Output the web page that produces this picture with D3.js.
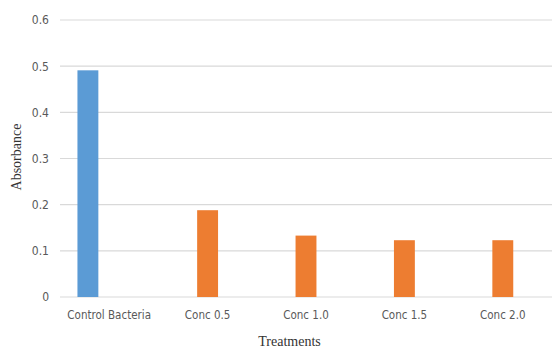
<!DOCTYPE html>
<html>
<head>
<meta charset="utf-8">
<script src="https://cdn.jsdelivr.net/npm/d3@7"></script>
<style>
  html, body { margin: 0; padding: 0; background: #fff; }
  svg { display: block; }
  .tick text { font-family: "DejaVu Sans Condensed", "DejaVu Sans", sans-serif; font-stretch: condensed; fill: #595959; }
  .title { font-family: "Liberation Serif", "Times New Roman", serif; fill: #333; }
</style>
</head>
<body>
<svg id="chart" width="553" height="349"></svg>
<script>
// Absorbance per treatment
const categories = ["Control Bacteria", "Conc 0.5", "Conc 1.0", "Conc 1.5", "Conc 2.0"];
const seriesNames = ["Control", "Treated", "Spare"];
const controlValues = [0.491, null, null, null, null];
const treatedValues = [null, 0.188, 0.133, 0.123, 0.123];
const yTicks = [0, 0.1, 0.2, 0.3, 0.4, 0.5, 0.6];
const colors = { Control: "#5B9BD5", Treated: "#ED7D31" };

const svg = d3.select("#chart");
const margin = { top: 20, right: 1, bottom: 52, left: 60 };
const width = 553 - margin.left - margin.right;
const height = 349 - margin.top - margin.bottom;

const g = svg.append("g").attr("transform", `translate(${margin.left},${margin.top})`);

const x0 = d3.scaleBand().domain(categories).range([0, width]).padding(0);
// three slots per category, middle one centred on the category
const slotW = 21.3;
const x1 = d3.scaleBand().domain(seriesNames)
  .range([x0.bandwidth() / 2 - slotW * 1.5, x0.bandwidth() / 2 + slotW * 1.5]).padding(0);
const y = d3.scaleLinear().domain([0, 0.6]).range([height, 0]);

// gridlines
g.append("g")
  .selectAll("line")
  .data(yTicks)
  .join("line")
  .attr("x1", 0).attr("x2", width)
  .attr("y1", d => y(d)).attr("y2", d => y(d))
  .attr("stroke", "#d9d9d9").attr("stroke-width", 1.2);

// y axis labels
const yAxis = g.append("g")
  .call(d3.axisLeft(y).tickValues(yTicks).tickSize(0).tickPadding(11)
    .tickFormat(d => d === 0 ? "0" : d3.format(".1f")(d)));
yAxis.select(".domain").remove();
yAxis.selectAll(".tick text").attr("font-size", 12);

// x axis labels
const xAxis = g.append("g")
  .attr("transform", `translate(0,${height})`)
  .call(d3.axisBottom(x0).tickSize(0).tickPadding(14));
xAxis.select(".domain").remove();
xAxis.selectAll(".tick text").attr("font-size", 11.5);

const rows = categories.map((c, i) => ({
  cat: c,
  values: [
    { key: "Control", v: controlValues[i] },
    { key: "Treated", v: treatedValues[i] }
  ].filter(d => d.v !== null)
}));

g.append("g")
  .selectAll("g")
  .data(rows)
  .join("g")
  .attr("transform", d => `translate(${x0(d.cat)},0)`)
  .selectAll("rect")
  .data(d => d.values)
  .join("rect")
  .attr("x", d => x1(d.key) + 0.2)
  .attr("width", x1.bandwidth() - 0.4)
  .attr("y", d => y(d.v))
  .attr("height", d => y(0) - y(d.v))
  .attr("fill", d => colors[d.key]);

// axis titles
svg.append("text")
  .attr("class", "title")
  .attr("transform", "translate(21,157) rotate(-90)")
  .attr("text-anchor", "middle")
  .attr("font-size", 14)
  .text("Absorbance");

svg.append("text")
  .attr("class", "title")
  .attr("x", 289.5).attr("y", 346)
  .attr("text-anchor", "middle")
  .attr("font-size", 14)
  .text("Treatments");
</script>
</body>
</html>
